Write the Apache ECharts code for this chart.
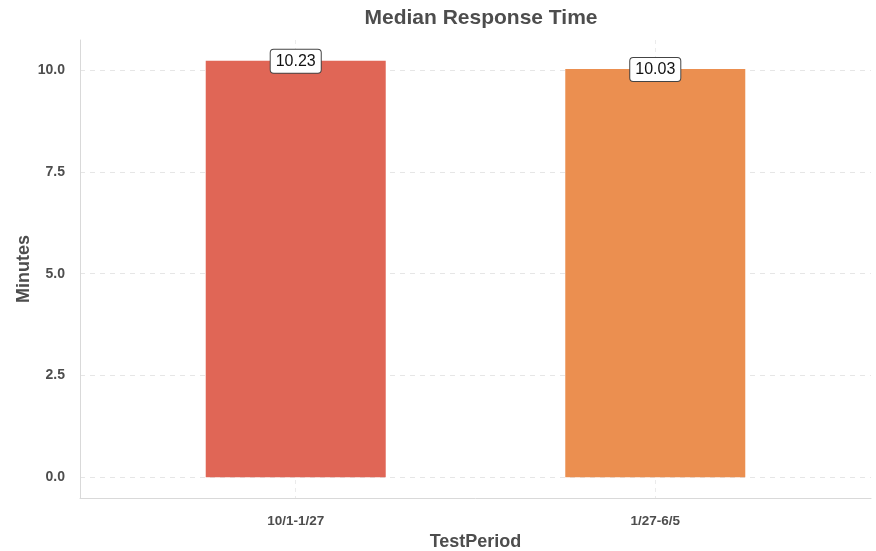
<!DOCTYPE html>
<html>
<head>
<meta charset="utf-8">
<script src="https://cdn.jsdelivr.net/npm/echarts@6/dist/echarts.min.js"></script>
<style>
  html, body { margin: 0; padding: 0; background: #ffffff; }
  #chart { width: 876px; height: 551px; }
</style>
</head>
<body>
<div id="chart"></div>
<script>
// Test periods and their median response times (minutes)
const periods = ['10/1-1/27', '1/27-6/5'];
const medianMinutes = [10.23, 10.03];
const barColors = ['#E06656', '#EB8F50'];
const yTicks = [0, 2.5, 5, 7.5, 10];

// Discrete positions 1..n on a numeric axis, padded by 0.6 on each side
const xPos = periods.map((_, i) => i + 1);
const yMaxData = Math.max(...medianMinutes);
const yPad = yMaxData * 0.05;

const textColor = '#4D4D4D';
const font = 'Liberation Sans, Arial, sans-serif';

const chart = echarts.init(document.getElementById('chart'), null, { renderer: 'canvas' });

chart.setOption({
  backgroundColor: '#ffffff',
  animation: false,
  title: {
    text: 'Median Response Time',
    left: 476,
    textAlign: 'center',
    top: 3,
    textStyle: { fontFamily: font, fontSize: 21, fontWeight: 'bold', color: textColor }
  },
  grid: { left: 80, right: 5, top: 40, bottom: 53, containLabel: false, outerBoundsMode: 'none' },
  xAxis: {
    type: 'value',
    min: 0.4,
    max: periods.length + 0.6,
    name: 'TestPeriod',
    nameLocation: 'middle',
    nameGap: 35,
    nameMoveOverlap: false,
    nameTextStyle: { fontFamily: font, fontSize: 18, fontWeight: 'bold', color: textColor },
    axisLine: { show: true, onZero: false, lineStyle: { color: '#D9D9D9', width: 1 } },
    axisTick: { show: false, customValues: xPos },
    axisLabel: {
      customValues: xPos,
      margin: 16,
      fontFamily: font, fontSize: 13.5, fontWeight: 'bold', color: textColor,
      formatter: v => periods[Math.round(v) - 1] || ''
    },
    splitLine: { show: true, lineStyle: { color: '#EBEBEB', type: [4, 4], width: 1 } }
  },
  yAxis: {
    type: 'value',
    min: -yPad,
    max: yMaxData + yPad,
    name: 'Minutes',
    nameLocation: 'middle',
    nameGap: 47,
    nameRotate: 90,
    nameMoveOverlap: false,
    nameTextStyle: { fontFamily: font, fontSize: 18, fontWeight: 'bold', color: textColor },
    axisLine: { show: true, lineStyle: { color: '#D9D9D9', width: 1 } },
    axisTick: { show: false, customValues: yTicks },
    axisLabel: {
      customValues: yTicks,
      margin: 15,
      fontFamily: font, fontSize: 14, fontWeight: 'bold', color: textColor,
      formatter: v => v.toFixed(1)
    },
    splitLine: { show: true, lineStyle: { color: '#E6E6E6', type: [5, 5], width: 1 } }
  },
  series: [{
    type: 'bar',
    barWidth: 180,
    data: medianMinutes.map((v, i) => ({
      value: [xPos[i], v],
      itemStyle: { color: barColors[i] }
    })),
    label: {
      show: true,
      position: 'top',
      distance: -12,
      formatter: p => p.value[1].toFixed(2),
      fontFamily: font,
      fontSize: 16,
      color: '#111111',
      backgroundColor: '#ffffff',
      borderColor: '#444444',
      borderWidth: 1,
      borderRadius: 3,
      padding: [4, 5, 3, 5]
    }
  }]
});
</script>
</body>
</html>
